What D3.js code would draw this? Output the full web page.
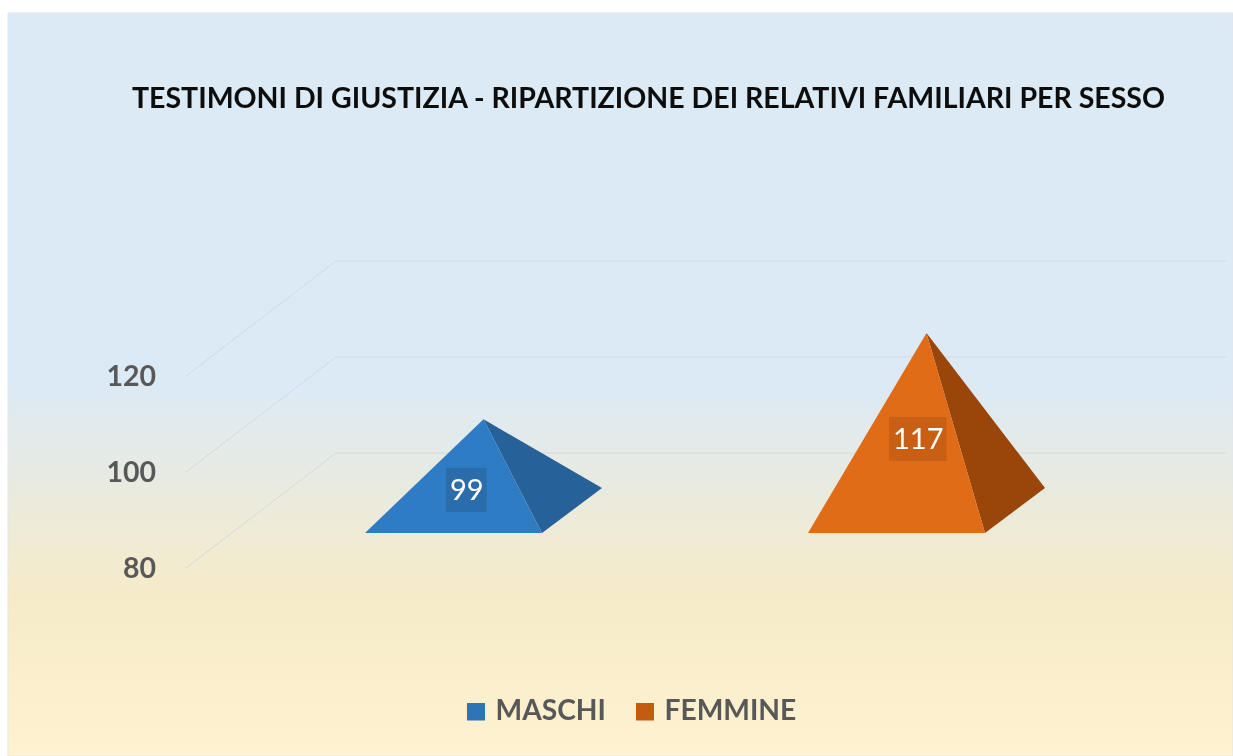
<!DOCTYPE html>
<html><head><meta charset="utf-8">
<script src="https://cdnjs.cloudflare.com/ajax/libs/d3/7.8.5/d3.min.js"></script>
<style>html,body{margin:0;padding:0;background:#fff}svg{display:block}text{font-family:Lato,"Open Sans",sans-serif}</style>
</head><body><svg id="c" width="1233" height="756"></svg>
<script>
const titleText = "TESTIMONI DI GIUSTIZIA - RIPARTIZIONE DEI RELATIVI FAMILIARI PER SESSO";
const categories = ["MASCHI","FEMMINE"];
const values = [99,117];
const tickValues = [80,100,120];
const frontColors = ["#2e7cc4","#e16c18"];
const sideColors = ["#266199","#9a460a"];
const boxColors = ["#2b6cab","#c85f14"];
const legendColors = ["#2e75b6","#c55a11"];

const svg = d3.select("#c");
const defs = svg.append("defs");
const grad = defs.append("linearGradient").attr("id","bg").attr("x1",0).attr("y1",0).attr("x2",0).attr("y2",1);
[[0,"#dceaf6"],[0.5,"#dceaf6"],[0.78,"#f6ebc9"],[1,"#fef2d0"]].forEach(s=>grad.append("stop").attr("offset",s[0]).attr("stop-color",s[1]));
defs.append("filter").attr("id","soft").append("feGaussianBlur").attr("stdDeviation",0.35);
svg.append("rect").attr("x",8).attr("y",13).attr("width",1225).attr("height",743).attr("fill","url(#bg)").attr("stroke","#e3e6ea").attr("stroke-width",1);

// projection of the oblique 3D chart
const y = d3.scaleLinear().domain([80,120]).range([568,376]);
const axisDepth = {dx:150,dy:-115};
const plotRight = 1226;
const xFront = d3.scaleBand().domain(categories).range([232,1118]);
const baseW = 177, depth = {dx:60,dy:-45};
const baseY = 533;
const unit = (y(80)-y(100))/20;

// gridlines
const grid = svg.append("g").attr("fill","none").attr("stroke","#d5d8da").attr("stroke-width",1);
tickValues.forEach(t=>{
  const p = d3.path();
  p.moveTo(186,y(t));
  p.lineTo(186+axisDepth.dx,y(t)+axisDepth.dy);
  p.lineTo(plotRight,y(t)+axisDepth.dy);
  grid.append("path").attr("d",p.toString());
});

// y axis labels
const ax = svg.append("g").attr("transform","translate(156,0)").call(d3.axisLeft(y).tickValues(tickValues).tickSize(0).tickPadding(0));
ax.select(".domain").remove();
ax.selectAll("text").attr("font-size",28.5).attr("font-weight",700).attr("fill","#595959").style("font-family","Lato").attr("dy","0.33em").attr("filter","url(#soft)");

// title
svg.append("text").attr("x",648.5).attr("y",108).attr("text-anchor","middle").attr("font-size",28.5).attr("font-weight",700).attr("fill","#0d0d0d").attr("filter","url(#soft)").text(titleText);

// pyramids
const labelY = d3.scaleLinear().domain([80,120]).range([543.5,430.5]);
const g = svg.append("g");
categories.forEach((c,i)=>{
  const xl = xFront(c)+ (xFront.bandwidth()-baseW)/2;
  const xr = xl+baseW;
  const ax_ = xl+baseW/2+depth.dx/2;
  const ay = baseY+depth.dy/2-(values[i]-80)*unit;
  const line = d3.line();
  g.append("path").attr("d",line([[xr,baseY],[xr+depth.dx,baseY+depth.dy],[ax_,ay]])+"Z").attr("fill",sideColors[i]);
  g.append("path").attr("d",line([[xl,baseY],[xr,baseY],[ax_,ay]])+"Z").attr("fill",frontColors[i]);
  const t = g.append("text").attr("x",xl+85).attr("y",labelY(values[i])).attr("dy","0.36em").attr("font-size",29).attr("fill","#fff").attr("filter","url(#soft)").text(values[i]);
  const w = t.node().getComputedTextLength();
  g.append("rect").attr("x",xl+81).attr("y",labelY(values[i])-22).attr("width",w+7).attr("height",44).attr("fill",boxColors[i]);
  t.raise();
});

// legend
const legendX = [467,636];
const lg = svg.append("g");
categories.forEach((c,i)=>{
  lg.append("rect").attr("x",legendX[i]).attr("y",703).attr("width",18).attr("height",17.5).attr("fill",legendColors[i]);
  lg.append("text").attr("x",legendX[i]+28.5).attr("y",720).attr("font-size",28.2).attr("font-weight",700).attr("fill","#595959").attr("filter","url(#soft)").text(c);
});
</script></body></html>
